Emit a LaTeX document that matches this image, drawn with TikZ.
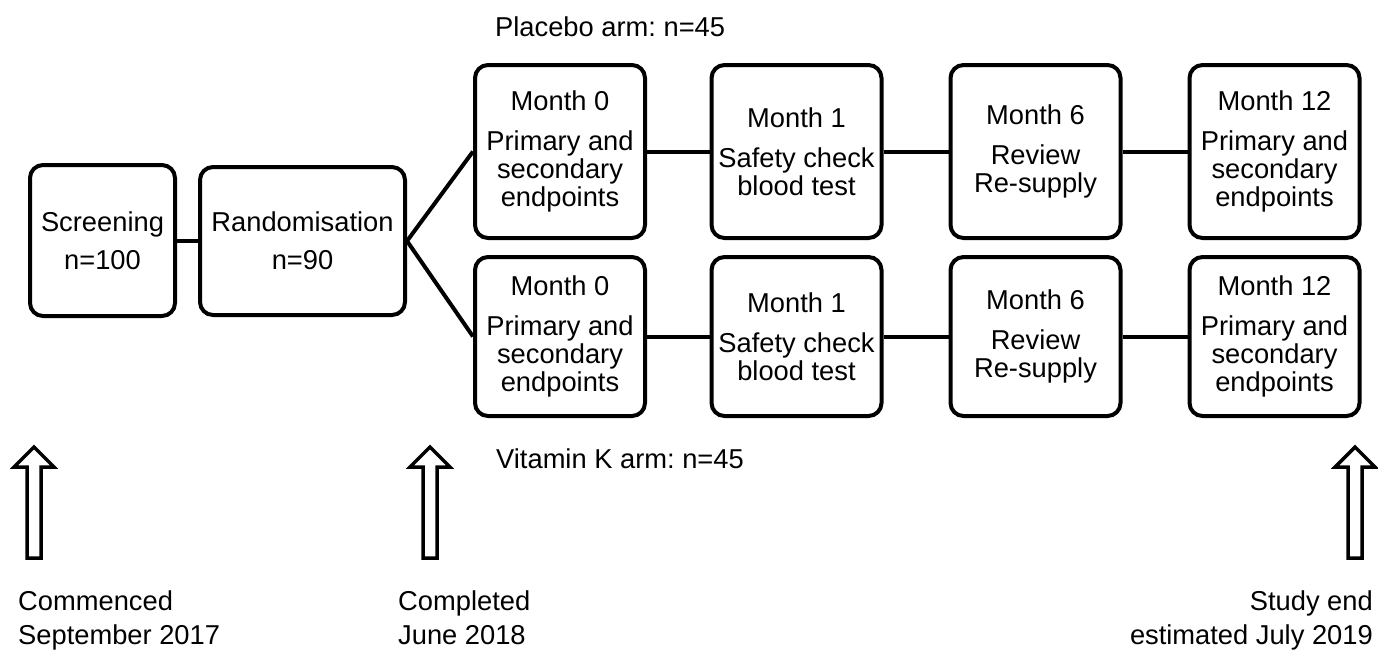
\documentclass[tikz,border=0pt]{standalone}
\usepackage{fontspec}
\setmainfont{Liberation Sans}
\frenchspacing
\begin{document}
\begin{tikzpicture}[x=1pt,y=-1pt,
  every node/.style={font=\fontsize{27.3}{28}\selectfont},
  box/.style={draw=black,line width=4pt,rounded corners=13pt,align=center,inner sep=0pt,fill=white},
  arm/.style={box,minimum width=170pt},
  toprow/.style={arm,minimum height=173pt},
  botrow/.style={arm,minimum height=159pt},
  link/.style={line width=4pt},
  label/.style={inner sep=0pt,anchor=west},
  hollow/.style={draw=black,line width=3.5pt,fill=white,line join=miter}
]
\useasboundingbox (0,0) rectangle (1378,649);

% left boxes
\node[box,minimum width=145pt,minimum height=151pt] (scr) at (102.5,240.5) {Screening\\[10pt]n=100};
\node[box,minimum width=205pt,minimum height=148pt] (rand) at (302.5,241) {Randomisation\\[10pt]n=90};

% placebo arm
\node[toprow] (p0) at (560,151.5) {Month 0\\[12pt]Primary and\\secondary\\endpoints};
\node[toprow] (p1) at (796.5,151.5) {Month 1\\[12pt]Safety check\\blood test};
\node[toprow] (p6) at (1035.5,151.5) {Month 6\\[12pt]Review\\Re-supply};
\node[toprow] (p12) at (1274.5,151.5) {Month 12\\[12pt]Primary and\\secondary\\endpoints};

% vitamin K arm
\node[botrow] (v0) at (560,336.5) {Month 0\\[12pt]Primary and\\secondary\\endpoints};
\node[botrow] (v1) at (796.5,336.5) {Month 1\\[12pt]Safety check\\blood test};
\node[botrow] (v6) at (1035.5,336.5) {Month 6\\[12pt]Review\\Re-supply};
\node[botrow] (v12) at (1274.5,336.5) {Month 12\\[12pt]Primary and\\secondary\\endpoints};

% connectors
\draw[link] (scr.east) -- (scr.east -| rand.west);
\draw[link] (rand.east) -- (p0.west);
\draw[link] (rand.east) -- (v0.west);
\draw[link] (p0) -- (p1);
\draw[link] (p1) -- (p6);
\draw[link] (p6) -- (p12);
\draw[link] (v0) -- (v1);
\draw[link] (v1) -- (v6);
\draw[link] (v6) -- (v12);

% arm labels
\node[label] (plab) at (495,27) {Placebo arm: n=45};
\node[label] (vlab) at (496,459) {Vitamin K arm: n=45};

% timeline arrows
\foreach \cx/\nm in {34/a1,430/a2,1355/a3}{
  \draw[hollow] (\cx,447) -- (\cx+20,467) -- (\cx+7,467) -- (\cx+7,558)
    -- (\cx-7,558) -- (\cx-7,467) -- (\cx-20,467) -- cycle;
}

% timeline labels
\node[label,align=left,anchor=north west] (t1) at (18,591) {Commenced\\[6pt]September 2017};
\node[label,align=left,anchor=north west] (t2) at (398,591) {Completed\\[6pt]June 2018};
\node[label,align=right,anchor=north east] (t3) at (1373,591) {Study end\\[6pt]estimated July 2019};
\end{tikzpicture}
\end{document}
